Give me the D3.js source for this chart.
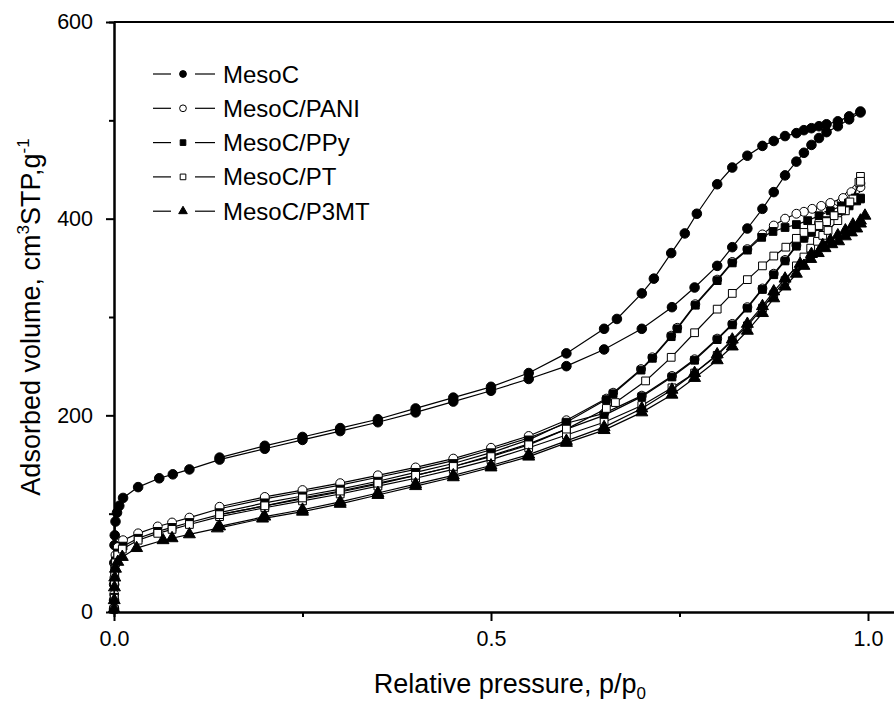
<!DOCTYPE html>
<html lang="en">
<head>
<meta charset="UTF-8">
<title>Isotherms</title>
<script src="https://cdn.jsdelivr.net/npm/d3@7"></script>
<style>
  body { margin: 0; background: #fff; }
  svg { display: block; font-family: "Liberation Sans", Arial, sans-serif; }
  .axis path, .axis line { stroke: #000; stroke-width: 2; }
  .axis text { font-size: 21.5px; fill: #000; font-family: "Liberation Sans", Arial, sans-serif; }
</style>
</head>
<body>
<script>
// series names shown in the legend
var seriesNames = ['MesoC', 'MesoC/PANI', 'MesoC/PPy', 'MesoC/PT', 'MesoC/P3MT'];

// [p/p0, volume] - adsorption branch then desorption branch
var mesocAds = [[0.00005,3],[0.0001,12],[0.0002,28],[0.0004,50],[0.0007,68],[0.001,78],[0.002,92],[0.004,101],[0.007,108],[0.012,116],[0.032,127],[0.06,136],[0.078,140],[0.1,145],[0.14,155],[0.2,166],[0.25,175],[0.3,184],[0.35,193],[0.4,203],[0.45,214],[0.5,225],[0.55,237],[0.6,250],[0.65,267],[0.7,288],[0.74,310],[0.77,330],[0.8,352],[0.82,371],[0.84,390],[0.86,410],[0.875,427],[0.89,444],[0.905,458],[0.915,467],[0.925,475],[0.935,482],[0.945,488],[0.96,494],[0.975,501],[0.99,508]];
var mesocDes = [[0.99,509],[0.975,504],[0.96,499],[0.945,496],[0.935,494],[0.925,492],[0.915,490],[0.905,487],[0.89,484],[0.875,479],[0.86,474],[0.84,464],[0.82,452],[0.8,435],[0.773,405],[0.757,385],[0.739,365],[0.716,339],[0.7,324],[0.667,298],[0.65,288],[0.6,263],[0.55,243],[0.5,229],[0.45,218],[0.4,207],[0.35,196],[0.3,187],[0.25,178],[0.2,169],[0.14,157]];

var paniAds = [[0.0001,4],[0.0003,18],[0.0006,35],[0.001,48],[0.002,58],[0.005,66],[0.012,73],[0.032,80],[0.058,87],[0.077,91],[0.1,96],[0.14,105],[0.2,115],[0.25,122],[0.3,129],[0.35,137],[0.4,145],[0.45,154],[0.5,165],[0.55,177],[0.6,192],[0.65,202],[0.7,220],[0.74,240],[0.77,257],[0.8,278],[0.82,293],[0.84,310],[0.86,329],[0.875,344],[0.89,358],[0.905,373],[0.915,381],[0.925,388],[0.935,396],[0.945,403],[0.955,410],[0.965,417],[0.975,423],[0.985,430],[0.99,436]];
var paniDes = [[0.99,432],[0.978,427],[0.967,421],[0.95,416],[0.938,413],[0.926,410],[0.915,407],[0.905,405],[0.89,400],[0.875,393],[0.86,384],[0.84,369],[0.82,356],[0.8,338],[0.771,313],[0.747,289],[0.739,281],[0.714,259],[0.699,247],[0.662,223],[0.653,217],[0.6,195],[0.55,179],[0.5,167],[0.45,156],[0.4,147],[0.35,139],[0.3,131],[0.25,124],[0.2,117],[0.14,107]];

var ppyAds = [[0.0001,3],[0.0003,15],[0.0006,30],[0.001,42],[0.002,52],[0.005,60],[0.012,67],[0.032,75],[0.058,82],[0.077,86],[0.1,91],[0.14,99],[0.2,108],[0.25,115],[0.3,122],[0.35,130],[0.4,139],[0.45,148],[0.5,159],[0.55,171],[0.6,186],[0.65,200],[0.7,219],[0.74,239],[0.77,256],[0.8,277],[0.82,292],[0.84,309],[0.86,328],[0.875,343],[0.89,357],[0.905,372],[0.915,380],[0.925,386],[0.935,392],[0.945,398],[0.955,403],[0.965,408],[0.975,413],[0.985,418],[0.99,421]];
var ppyDes = [[0.99,420],[0.983,421],[0.974,416],[0.965,413],[0.95,408],[0.935,403],[0.92,398],[0.905,394],[0.89,391],[0.874,387],[0.859,381],[0.84,368],[0.82,355],[0.8,337],[0.771,312],[0.747,288],[0.739,280],[0.714,258],[0.699,246],[0.662,222],[0.653,216],[0.6,193],[0.55,175],[0.5,162],[0.45,151],[0.4,142],[0.35,133],[0.3,125],[0.25,118],[0.2,111],[0.14,101]];

var ptAds = [[0.0001,3],[0.0003,14],[0.0006,28],[0.001,40],[0.002,50],[0.005,58],[0.011,64],[0.032,73],[0.058,80],[0.077,84],[0.1,89],[0.14,97],[0.2,106],[0.25,113],[0.3,120],[0.35,128],[0.4,136],[0.45,145],[0.5,155],[0.55,167],[0.6,180],[0.65,193],[0.7,210],[0.74,228],[0.77,243],[0.8,261],[0.82,276],[0.84,291],[0.86,309],[0.875,323],[0.89,337],[0.905,352],[0.915,361],[0.924,370],[0.933,377],[0.94,383],[0.947,388],[0.96,398],[0.97,408],[0.98,420],[0.988,437],[0.99,443]];
var ptDes = [[0.99,438],[0.976,417],[0.965,409],[0.955,403],[0.945,397],[0.935,393],[0.925,390],[0.915,386],[0.905,380],[0.891,371],[0.875,362],[0.86,352],[0.84,338],[0.82,324],[0.8,308],[0.77,284],[0.739,259],[0.705,235],[0.665,213],[0.653,207],[0.6,186],[0.55,170],[0.5,158],[0.45,148],[0.4,139],[0.35,131],[0.3,123],[0.25,116],[0.2,108],[0.14,99]];

var p3mtAds = [[0.0001,3],[0.0003,12],[0.0006,25],[0.001,35],[0.002,44],[0.005,51],[0.011,56],[0.03,65],[0.065,73],[0.077,75],[0.1,79],[0.137,85],[0.197,95],[0.25,102],[0.3,110],[0.35,119],[0.4,128],[0.45,137],[0.5,147],[0.55,158],[0.6,172],[0.65,185],[0.7,203],[0.74,221],[0.77,238],[0.8,256],[0.82,270],[0.84,286],[0.86,304],[0.875,319],[0.89,331],[0.905,344],[0.915,352],[0.924,359],[0.934,365],[0.943,370],[0.952,374],[0.961,377],[0.97,382],[0.978,386],[0.985,390],[0.99,395],[0.996,403]];
var p3mtDes = [[0.99,398],[0.98,394],[0.97,388],[0.96,383],[0.95,378],[0.94,373],[0.925,364],[0.91,354],[0.89,339],[0.875,326],[0.86,311],[0.84,293],[0.82,277],[0.8,262],[0.77,243],[0.74,226],[0.7,207],[0.65,188],[0.6,174],[0.55,160],[0.5,149],[0.45,139],[0.4,130],[0.35,121],[0.3,112],[0.25,104],[0.2,97],[0.14,87]];

var xTicks = [0, 0.5, 1.0];
var xMinor = [0.25, 0.75];
var yTicks = [0, 200, 400, 600];
var yMinor = [100, 300, 500];

var w = 894, h = 702;

var series = [
  { name: seriesNames[0], pts: mesocAds.concat(mesocDes), sym: 'circle', fill: '#000', size: 72 },
  { name: seriesNames[1], pts: paniAds.concat(paniDes), sym: 'circle', fill: '#fff', size: 62 },
  { name: seriesNames[2], pts: ppyAds.concat(ppyDes), sym: 'square', fill: '#000', size: 60 },
  { name: seriesNames[3], pts: ptAds.concat(ptDes), sym: 'square', fill: '#fff', size: 60 },
  { name: seriesNames[4], pts: p3mtAds.concat(p3mtDes), sym: 'triangle', fill: '#000', size: 62 }
];

var symbolTypes = { circle: d3.symbolCircle, square: d3.symbolSquare, triangle: d3.symbolTriangle };

var svg = d3.select('body').append('svg')
  .attr('width', w)
  .attr('height', h);

// x axis runs past the right edge of the picture
var xScale = d3.scaleLinear().domain([0, 1.05]).range([114, 114 + 1.05 * 754]);
var yScale = d3.scaleLinear().domain([0, 600]).range([612, 22]);

// frame top line
svg.append('line')
  .attr('x1', xScale(0)).attr('x2', xScale(1.05))
  .attr('y1', yScale(600)).attr('y2', yScale(600))
  .attr('stroke', '#000').attr('stroke-width', 2);

// minor ticks
svg.append('g').attr('class', 'axis')
  .attr('transform', 'translate(0,' + yScale(0) + ')')
  .call(d3.axisBottom(xScale).tickValues(xMinor).tickSize(5).tickFormat(''));
svg.append('g').attr('class', 'axis')
  .attr('transform', 'translate(' + xScale(0) + ',0)')
  .call(d3.axisLeft(yScale).tickValues(yMinor).tickSize(5).tickFormat(''));

// major axes
svg.append('g').attr('class', 'x axis')
  .attr('transform', 'translate(0,' + yScale(0) + ')')
  .call(d3.axisBottom(xScale).tickValues(xTicks).tickSize(9).tickSizeOuter(0).tickPadding(10).tickFormat(d3.format('.1f')));
svg.append('g').attr('class', 'y axis')
  .attr('transform', 'translate(' + xScale(0) + ',0)')
  .call(d3.axisLeft(yScale).tickValues(yTicks).tickSize(8).tickSizeOuter(0).tickPadding(13));

var line = d3.line()
  .x(d => xScale(d[0]))
  .y(d => yScale(d[1]));

var plot = svg.append('g');

series.forEach(function(s) {
  plot.append('path')
    .attr('d', line(s.pts))
    .attr('fill', 'none')
    .attr('stroke', '#000')
    .attr('stroke-width', 1.2);
  plot.selectAll(null)
    .data(s.pts)
    .enter()
    .append('path')
    .attr('transform', d => 'translate(' + xScale(d[0]) + ',' + yScale(d[1]) + ')')
    .attr('d', d3.symbol().type(symbolTypes[s.sym]).size(s.size))
    .attr('fill', s.fill)
    .attr('stroke', '#000')
    .attr('stroke-width', 1);
});

// legend
var legend = svg.append('g').attr('transform', 'translate(153,74)');
series.forEach(function(s, i) {
  var g = legend.append('g').attr('transform', 'translate(0,' + (i * 34.3) + ')');
  g.append('line').attr('x1', 0).attr('x2', 18).attr('y1', 0).attr('y2', 0).attr('stroke', '#000').attr('stroke-width', 1.2);
  g.append('line').attr('x1', 42).attr('x2', 62).attr('y1', 0).attr('y2', 0).attr('stroke', '#000').attr('stroke-width', 1.2);
  g.append('path')
    .attr('transform', 'translate(30,0)')
    .attr('d', d3.symbol().type(symbolTypes[s.sym]).size(s.sym === 'circle' ? 36 : 32))
    .attr('fill', s.fill)
    .attr('stroke', '#000')
    .attr('stroke-width', 1);
  g.append('text')
    .attr('x', 70)
    .attr('y', 8.5)
    .attr('font-size', '24px')
    .text(s.name);
});

// axis titles, centred on the full axis length
var xt = svg.append('text')
  .attr('x', (xScale(0) + xScale(1.05)) / 2)
  .attr('y', 693)
  .attr('text-anchor', 'middle')
  .attr('font-size', '27px');
xt.append('tspan').text('Relative pressure, p/p');
xt.append('tspan').attr('font-size', '17px').attr('dy', 6).text('0');

var yt = svg.append('text')
  .attr('transform', 'translate(40,' + (yScale(0) + yScale(600)) / 2 + ') rotate(-90)')
  .attr('text-anchor', 'middle')
  .attr('font-size', '27px');
yt.append('tspan').text('Adsorbed volume, cm');
yt.append('tspan').attr('font-size', '17px').attr('dy', -11).text('3');
yt.append('tspan').attr('dy', 11).text('STP,g');
yt.append('tspan').attr('font-size', '17px').attr('dy', -11).text('-1');
</script>
</body>
</html>
